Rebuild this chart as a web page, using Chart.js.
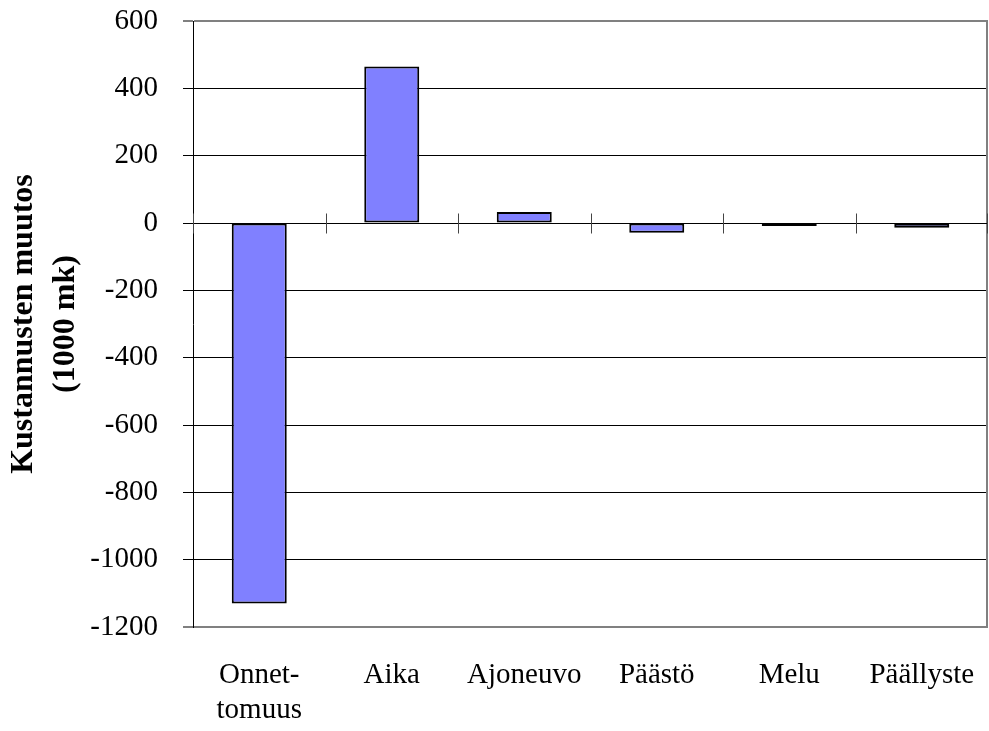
<!DOCTYPE html>
<html><head><meta charset="utf-8">
<script src="https://cdn.jsdelivr.net/npm/chart.js@4.4.0/dist/chart.umd.min.js"></script>
<style>html,body{margin:0;padding:0;background:#fff}canvas{display:block}</style>
</head><body>
<canvas id="c" width="989" height="731"></canvas>
<script>
const categories = [['Onnet-','tomuus'],'Aika','Ajoneuvo','Päästö','Melu','Päällyste'];
const costChange = [-1130, 465, 33, -29, -9, -14];
const yTicks = [600,400,200,0,-200,-400,-600,-800,-1000,-1200];
const yTitle = ['Kustannusten muutos','(1000 mk)'];

const FONT = "'Liberation Serif','Times New Roman',serif";
const ymin = Math.min(...yTicks), ymax = Math.max(...yTicks);
const isEdge = c => c.tick && (c.tick.value === ymax || c.tick.value === ymin);

const frame = {
  id: 'frame',
  beforeDatasetsDraw(chart) {
    const {ctx, chartArea: a, scales: {x, y}} = chart;
    ctx.save();
    ctx.strokeStyle = '#808080'; ctx.lineWidth = 2;
    ctx.beginPath(); ctx.moveTo(a.right - 1, a.top - 1); ctx.lineTo(a.right - 1, a.bottom + 1); ctx.stroke();
    const y0 = Math.round(y.getPixelForValue(0)) + 0.5;
    ctx.strokeStyle = '#000'; ctx.lineWidth = 1;
    ctx.beginPath(); ctx.moveTo(a.left, y0); ctx.lineTo(a.right, y0); ctx.stroke();
    ctx.strokeStyle = '#444';
    const n = x.ticks.length;
    for (let i = 0; i <= n; i++) {
      let px;
      if (i === 0) px = a.left; else if (i === n) px = a.right - 1;
      else px = (x.getPixelForValue(i - 1) + x.getPixelForValue(i)) / 2;
      px = Math.round(px) + 0.5;
      ctx.beginPath(); ctx.moveTo(px, y0 - 10); ctx.lineTo(px, y0 + 10); ctx.stroke();
    }
    ctx.restore();
  }
};

new Chart(document.getElementById('c'), {
  type: 'bar',
  data: {
    labels: categories,
    datasets: [{
      data: costChange,
      backgroundColor: '#8080FF',
      borderColor: '#000',
      borderWidth: 2,
      borderSkipped: false,
      inflateAmount: 0,
      barPercentage: 0.415,
      categoryPercentage: 1
    }]
  },
  plugins: [frame],
  options: {
    responsive: false,
    animation: false,
    layout: {padding: {top: 21, right: 1, bottom: 0, left: 0}},
    plugins: {legend: {display: false}, tooltip: {enabled: false}},
    scales: {
      x: {
        grid: {display: false, drawTicks: false},
        border: {display: false},
        ticks: {color: '#000', font: {family: FONT, size: 29, lineHeight: 1.2}, padding: 31, maxRotation: 0, autoSkip: false},
        afterFit(s) { s.height = 104; s.paddingLeft = 0; s.paddingRight = 0; }
      },
      y: {
        min: ymin, max: ymax,
        afterBuildTicks(s) { s.ticks = yTicks.map(v => ({value: v})); },
        ticks: {color: '#000', font: {family: FONT, size: 29}, padding: 25, callback: v => String(v)},
        grid: {
          color: c => isEdge(c) ? '#808080' : '#000',
          lineWidth: c => isEdge(c) ? 2 : 1,
          tickLength: 10,
          tickColor: c => isEdge(c) ? '#808080' : '#000'
        },
        border: {display: true, color: '#000', width: 1},
        title: {display: true, text: yTitle, color: '#000',
          font: {family: FONT, size: 32, weight: 'bold', lineHeight: 1.3}, padding: {top: 3, bottom: 0}},
        afterFit(s) { s.width = 193; s.paddingTop = 0; s.paddingBottom = 0; }
      }
    }
  }
});
</script>
</body></html>
